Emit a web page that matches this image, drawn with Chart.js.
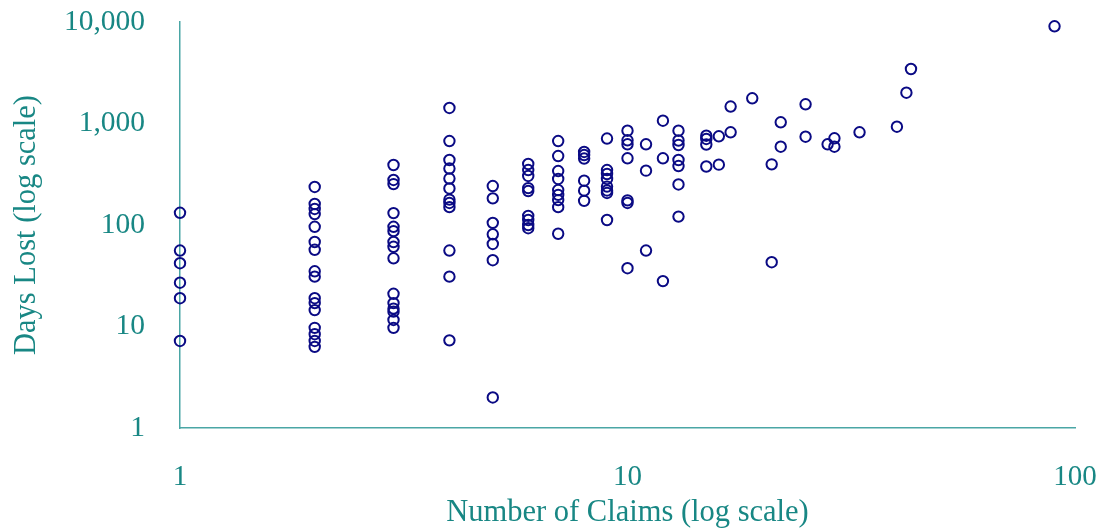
<!DOCTYPE html>
<html>
<head>
<meta charset="utf-8">
<title>Days Lost vs Number of Claims</title>
<script src="https://cdn.jsdelivr.net/npm/chart.js@4/dist/chart.umd.min.js"></script>
<style>
  html, body { margin: 0; padding: 0; background: #ffffff; }
  #wrap { width: 1110px; height: 531px; }
</style>
</head>
<body>
<div id="wrap"><canvas id="chart" width="1110" height="531"></canvas></div>
<script>
// Number of claims per group (x) and total days lost (y), one entry per point
const claims = [
  1, 1, 1, 1, 1, 1,
  2, 2, 2, 2, 2, 2, 2, 2, 2, 2, 2, 2, 2, 2, 2, 2,
  3, 3, 3, 3, 3, 3, 3, 3, 3, 3, 3, 3, 3, 3, 3,
  4, 4, 4, 4, 4, 4, 4, 4, 4, 4, 4, 4,
  5, 5, 5, 5, 5, 5, 5,
  6, 6, 6, 6, 6, 6, 6, 6, 6,
  7, 7, 7, 7, 7, 7, 7, 7, 7,
  8, 8, 8, 8, 8, 8,
  9, 9, 9, 9, 9, 9, 9, 9,
  10, 10, 10, 10, 10, 10, 10,
  11, 11, 11,
  12, 12, 12,
  13, 13, 13, 13, 13, 13, 13,
  15, 15, 15, 15,
  16, 16,
  17, 17,
  19,
  21, 21,
  22, 22,
  25, 25,
  28,
  29, 29,
  33,
  40,
  42,
  43,
  90
];
const daysLost = [
  132, 56, 42, 27, 19, 7.2,
  237, 161, 144, 128, 96, 68, 57, 35, 31, 19, 17, 14.5, 9.7, 8.4, 7.2, 6.3,
  390, 278, 253, 131, 96, 87, 68, 61, 47, 21, 17, 15, 14, 11.6, 9.7,
  1422, 672, 437, 360, 287, 229, 178, 165, 150, 56, 31, 7.3,
  242, 183, 105, 81, 65, 45, 2,
  399, 348, 304, 231, 216, 123, 112, 100, 93,
  672, 478, 340, 284, 221, 198, 176, 150, 82,
  524, 489, 452, 273, 218, 173,
  711, 348, 318, 284, 239, 219, 207, 112,
  849, 683, 624, 454, 175, 165, 37.5,
  624, 343, 56,
  1066, 454, 28,
  849, 680, 614, 437, 381, 251, 121,
  758, 704, 621, 377,
  748, 393,
  1470, 819,
  1771,
  396, 43,
  1028, 591,
  1546, 741,
  624,
  715, 591,
  819,
  930,
  2012,
  3443,
  9073
];

// Axis ticks (powers of ten only)
const xTicks = [1, 10, 100];
const yTicks = [1, 10, 100, 1000, 10000];

const teal = '#188784';
const tealLine = '#4aa6a5';
const navy = '#0a0a84';
const serif = "'Liberation Serif', 'Times New Roman', serif";

const points = claims.map((c, i) => ({ x: c, y: daysLost[i] }));

new Chart(document.getElementById('chart'), {
  type: 'scatter',
  data: {
    datasets: [{
      data: points,
      clip: false,
      pointStyle: 'circle',
      pointRadius: 5.2,
      pointHoverRadius: 5.2,
      pointBorderWidth: 2,
      pointBorderColor: navy,
      pointBackgroundColor: 'rgba(0,0,0,0)'
    }]
  },
  options: {
    responsive: false,
    animation: false,
    devicePixelRatio: 1,
    layout: {
      autoPadding: false,
      padding: { top: 22, right: 35, bottom: 0, left: 0 }
    },
    plugins: {
      legend: { display: false },
      tooltip: { enabled: false }
    },
    scales: {
      x: {
        type: 'logarithmic',
        min: 1,
        max: 100,
        afterBuildTicks: (s) => { s.ticks = xTicks.map(v => ({ value: v })); },
        afterFit: (s) => {
          s.height = 103;
          s.paddingLeft = 0;
          s.paddingRight = 0;
        },
        grid: { display: false, drawTicks: false },
        border: { display: true, color: tealLine, width: 1.5 },
        ticks: {
          color: teal,
          font: { family: serif, size: 29 },
          padding: 32,
          maxRotation: 0,
          autoSkip: false,
          callback: (v) => Number(v).toLocaleString('en-US')
        },
        title: {
          display: true,
          text: 'Number of Claims (log scale)',
          color: teal,
          font: { family: serif, size: 30.5 },
          padding: { top: 0, bottom: 0 }
        }
      },
      y: {
        type: 'logarithmic',
        min: 1,
        max: 10000,
        afterBuildTicks: (s) => { s.ticks = yTicks.map(v => ({ value: v })); },
        afterFit: (s) => {
          s.width = 180;
          s.paddingTop = 0;
          s.paddingBottom = 0;
        },
        grid: { display: false, drawTicks: false },
        border: { display: true, color: tealLine, width: 1.5 },
        ticks: {
          color: teal,
          font: { family: serif, size: 29.5 },
          padding: 35,
          autoSkip: false,
          callback: (v) => Number(v).toLocaleString('en-US')
        },
        title: {
          display: true,
          text: 'Days Lost (log scale)',
          color: teal,
          font: { family: serif, size: 30.5 },
          padding: { top: 9, bottom: 0 }
        }
      }
    }
  }
});
</script>
</body>
</html>
